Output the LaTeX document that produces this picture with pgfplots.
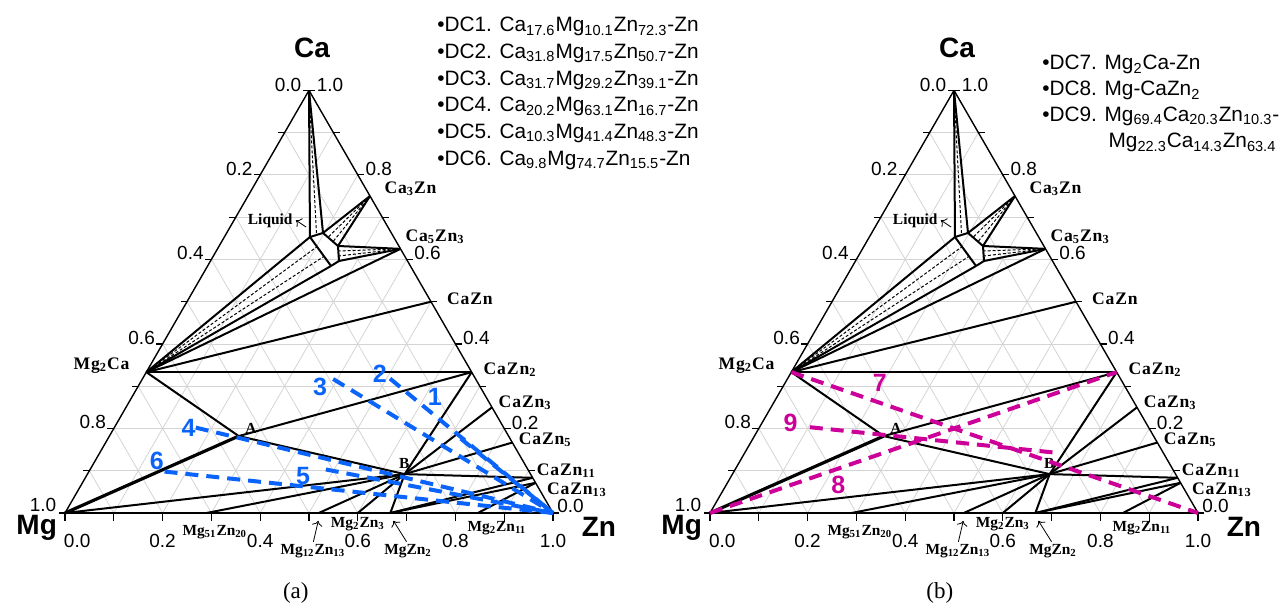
\documentclass[border=0pt]{standalone}
\usepackage{pgfplots}
\pgfplotsset{compat=1.18}
\usepackage{pgfplotstable}
\usetikzlibrary{arrows.meta}
\usepackage{fontspec}
\setmainfont{Liberation Sans}
\newfontfamily\tnr{Liberation Serif}
\newfontfamily\tnrsp[LetterSpace=5]{Liberation Serif}

\definecolor{dcblue}{RGB}{10,100,250}
\definecolor{dcmag}{RGB}{204,0,153}
\definecolor{gridgray}{RGB}{212,212,212}

% compositions are given as (x_Zn, x_Ca); the Cartesian position is
% X = x_Zn + x_Ca/2, Y = x_Ca*sqrt(3)/2, with Mg at the origin
\pgfplotsset{
  table/tern xy/.style={x expr=\thisrow{za}+0.5*\thisrow{ca}, y expr=0.8660254*\thisrow{ca}},
  tern seg/.style={no markers, quiver={u=\thisrow{zb}+0.5*\thisrow{cb}-\thisrow{za}-0.5*\thisrow{ca}, v=0.8660254*\thisrow{cb}-0.8660254*\thisrow{ca}}},
  tern tick/.style 2 args={no markers, quiver={u=#1, v=#2}},
}

% triangle edges
\pgfplotstableread{
za ca zb cb
0 0 1 0
1 0 0 1
0 1 0 0
}\borderlines

% composition grid, step 0.1
\pgfplotstableread{
za ca zb cb
0 0.1 0.9 0.1
0 0.2 0.8 0.2
0 0.3 0.7 0.3
0 0.4 0.6 0.4
0 0.5 0.5 0.5
0 0.6 0.4 0.6
0 0.7 0.3 0.7
0 0.8 0.2 0.8
0 0.9 0.1 0.9
0.1 0 0.1 0.9
0.2 0 0.2 0.8
0.3 0 0.3 0.7
0.4 0 0.4 0.6
0.5 0 0.5 0.5
0.6 0 0.6 0.4
0.7 0 0.7 0.3
0.8 0 0.8 0.2
0.9 0 0.9 0.1
0.9 0 0 0.9
0.8 0 0 0.8
0.7 0 0 0.7
0.6 0 0 0.6
0.5 0 0 0.5
0.4 0 0 0.4
0.3 0 0 0.3
0.2 0 0 0.2
0.1 0 0 0.1
}\gridlines

\pgfplotstableread{
za ca
0 0
0 0.1
0 0.2
0 0.3
0 0.4
0 0.5
0 0.6
0 0.7
0 0.8
0 0.9
0 1
}\lefttickpts

\pgfplotstableread{
za ca
1 0
0.9 0.1
0.8 0.2
0.7 0.3
0.6 0.4
0.5 0.5
0.4 0.6
0.3 0.7
0.2 0.8
0.1 0.9
0 1
}\righttickpts

\pgfplotstableread{
za ca
0 0
0.1 0
0.2 0
0.3 0
0.4 0
0.5 0
0.6 0
0.7 0
0.8 0
0.9 0
1 0
}\bottomtickpts

% phase-field boundaries and tie lines
\pgfplotstableread{
za ca zb cb
0 0.3333 0.6667 0.3333
0 0.3333 0.5 0.5
0 0.3333 0.375 0.625
0 0.3333 0.1755 0.653
0 0.3333 0.2529 0.5845
0.1755 0.653 0.1974 0.6626
0.1974 0.6626 0.2435 0.6318
0.2435 0.6318 0.2633 0.5963
0.2633 0.5963 0.2529 0.5845
0.2529 0.5845 0.1755 0.653
0 1 0.1755 0.653
0 1 0.1974 0.6626
0.25 0.75 0.1974 0.6626
0.25 0.75 0.2435 0.6318
0.375 0.625 0.2435 0.6318
0.375 0.625 0.2633 0.5963
0 0.3333 0.265 0.182
0.265 0.182 0.6667 0.3333
0.265 0.182 0.65 0.092
0 0 0.65 0.092
0.65 0.092 0.6667 0.3333
0.65 0.092 0.75 0.25
0.65 0.092 0.8333 0.1667
0.65 0.092 0.9167 0.0833
0.65 0.092 0.29 0
0.65 0.092 0.52 0
0.65 0.092 0.6 0
0.65 0.092 0.6667 0
0.6667 0 0.9167 0.0833
0.6667 0 0.9286 0.0714
0.846 0 0.9286 0.0714
}\phaselines

\pgfplotstableread{
za ca zb cb
0 0 0.265 0.182
}\mgaline

% tie lines inside the two-phase fields around the liquid
\pgfplotstableread{
za ca zb cb
0 1 0.1865 0.6578
0.25 0.75 0.2128 0.6523
0.25 0.75 0.2281 0.6421
0.375 0.625 0.2501 0.6200
0.375 0.625 0.2567 0.6081
0 0.3333 0.2013 0.6302
0 0.3333 0.2271 0.6073
}\liquidties

% diffusion couples DC1-DC6 (end member: pure Zn)
\pgfplotstableread{
za ca zb cb
0.723 0.176 1 0
0.507 0.318 1 0
0.391 0.317 1 0
0.167 0.202 1 0
0.483 0.103 1 0
0.155 0.098 1 0
}\couplesA

% diffusion couples DC7-DC9
\pgfplotstableread{
za ca zb cb
0 0.3333 1 0
0 0 0.6667 0.3333
0.103 0.203 0.634 0.143
}\couplesB

\tikzset{
  cmp/.style={font=\tnr\bfseries\fontsize{7.7}{9}\selectfont, inner sep=0pt},
  cmpl/.style={font=\tnrsp\bfseries\fontsize{8.8}{10}\selectfont, inner sep=0pt},
  tlab/.style={font=\fontsize{9.5}{10}\selectfont, inner sep=0pt},
  cornerlab/.style={font=\bfseries\fontsize{14}{16}\selectfont, inner sep=0pt},
  dcnum/.style={font=\bfseries\fontsize{12.5}{14}\selectfont, inner sep=0pt},
  leg/.style={font=\fontsize{10.4}{12}\selectfont, inner sep=0pt, anchor=base west},
  panellab/.style={font=\tnr\fontsize{11.5}{13}\selectfont, inner sep=0pt},
  pointer/.style={black, line width=0.4pt, -{To[length=2.5pt]}},
}

\newcommand{\sub}[1]{\textsubscript{#1}}

\newcommand{\phasediagram}{%
  \addplot[gridgray, line width=0.4pt, tern seg] table[tern xy] {\gridlines};
  \addplot[black, line width=0.7pt, tern seg] table[tern xy] {\borderlines};
  \addplot[black, line width=0.6pt, tern tick={-0.013}{0}] table[tern xy] {\lefttickpts};
  \addplot[black, line width=0.6pt, tern tick={0.013}{0}] table[tern xy] {\righttickpts};
  \addplot[black, line width=0.6pt, tern tick={0}{-0.016}] table[tern xy] {\bottomtickpts};
  \addplot[black, line width=1pt, tern seg] table[tern xy] {\phaselines};
  \addplot[black, line width=1.6pt, tern seg] table[tern xy] {\mgaline};
  \addplot[black, line width=0.5pt, dash pattern=on 1.5pt off 1pt, tern seg] table[tern xy] {\liquidties};
  % tick labels
  \node[tlab] at (0.025,-0.0574) {0.0};
  \node[tlab] at (0.2,-0.0574) {0.2};
  \node[tlab] at (0.4,-0.0574) {0.4};
  \node[tlab] at (0.6,-0.0574) {0.6};
  \node[tlab] at (0.8,-0.0574) {0.8};
  \node[tlab] at (1.0,-0.0574) {1.0};
  \node[tlab] at (0.457,0.878) {0.0};
  \node[tlab] at (0.357,0.705) {0.2};
  \node[tlab] at (0.257,0.532) {0.4};
  \node[tlab] at (0.157,0.359) {0.6};
  \node[tlab] at (0.057,0.186) {0.8};
  \node[tlab] at (-0.045,0.016) {1.0};
  \node[tlab] at (1.036,0.014) {0.0};
  \node[tlab] at (0.943,0.1855) {0.2};
  \node[tlab] at (0.843,0.3587) {0.4};
  \node[tlab] at (0.743,0.532) {0.6};
  \node[tlab] at (0.643,0.705) {0.8};
  \node[tlab] at (0.543,0.878) {1.0};
  % components
  \node[cornerlab] at (0.506,0.953) {Ca};
  \node[cornerlab] at (-0.058,-0.031) {Mg};
  \node[cornerlab] at (1.094,-0.029) {Zn};
  % compounds and invariant points
  \node[cmpl, anchor=west] at (0.654,0.664) {Ca\sub{3}Zn};
  \node[cmpl, anchor=west] at (0.697,0.566) {Ca\sub{5}Zn\sub{3}};
  \node[cmpl, anchor=west] at (0.782,0.440) {CaZn};
  \node[cmpl, anchor=west] at (0.857,0.293) {CaZn\sub{2}};
  \node[cmpl, anchor=west] at (0.888,0.225) {CaZn\sub{3}};
  \node[cmpl, anchor=west] at (0.929,0.150) {CaZn\sub{5}};
  \node[cmpl, anchor=west] at (0.966,0.086) {CaZn\sub{11}};
  \node[cmpl, anchor=west] at (0.987,0.047) {CaZn\sub{13}};
  \node[cmpl, anchor=east] at (0.133,0.301) {Mg\sub{2}Ca};
  \node[cmp, anchor=east] at (0.467,0.598) {Liquid};
  \draw[pointer] (0.494,0.586) -- (0.473,0.600);
  \node[cmp] at (0.381,0.174) {A};
  \node[cmp] at (0.695,0.102) {B};
  \node[cmp] at (0.307,-0.039) {Mg\sub{51}Zn\sub{20}};
  \node[cmp] at (0.508,-0.078) {Mg\sub{12}Zn\sub{13}};
  \node[cmp] at (0.600,-0.0225) {Mg\sub{2}Zn\sub{3}};
  \node[cmp] at (0.703,-0.078) {MgZn\sub{2}};
  \node[cmp] at (0.885,-0.031) {Mg\sub{2}Zn\sub{11}};
  \draw[pointer] (0.509,-0.059) -- (0.519,-0.016);
  \draw[pointer] (0.700,-0.059) -- (0.673,-0.016);
}

\begin{document}
\begin{tikzpicture}
\useasboundingbox (0,0) rectangle (640pt,303pt);

\begin{axis}[at={(32.5pt,46.5pt)}, anchor=south west, x=244pt, y=244pt,
  xmin=0, xmax=1, ymin=0, ymax=0.8660254, axis lines=none, clip=false]
  \phasediagram
  \addplot[dcblue, line width=2pt, dash pattern=on 6.5pt off 4pt, tern seg] table[tern xy] {\couplesA};
  \node[dcnum, text=dcblue] at (0.758,0.238) {1};
  \node[dcnum, text=dcblue] at (0.645,0.286) {2};
  \node[dcnum, text=dcblue] at (0.5225,0.259) {3};
  \node[dcnum, text=dcblue] at (0.253,0.174) {4};
  \node[dcnum, text=dcblue] at (0.488,0.076) {5};
  \node[dcnum, text=dcblue] at (0.188,0.107) {6};
  \node[leg] at (0.762,0.986) {\textbullet DC1. Ca\sub{17.6}Mg\sub{10.1}Zn\sub{72.3}-Zn};
  \node[leg] at (0.762,0.932) {\textbullet DC2. Ca\sub{31.8}Mg\sub{17.5}Zn\sub{50.7}-Zn};
  \node[leg] at (0.762,0.877) {\textbullet DC3. Ca\sub{31.7}Mg\sub{29.2}Zn\sub{39.1}-Zn};
  \node[leg] at (0.762,0.822) {\textbullet DC4. Ca\sub{20.2}Mg\sub{63.1}Zn\sub{16.7}-Zn};
  \node[leg] at (0.762,0.768) {\textbullet DC5. Ca\sub{10.3}Mg\sub{41.4}Zn\sub{48.3}-Zn};
  \node[leg] at (0.762,0.713) {\textbullet DC6. Ca\sub{9.8}Mg\sub{74.7}Zn\sub{15.5}-Zn};
  \node[panellab] at (0.473,-0.164) {(a)};
\end{axis}

\begin{axis}[at={(355pt,46.5pt)}, anchor=south west, x=244pt, y=244pt,
  xmin=0, xmax=1, ymin=0, ymax=0.8660254, axis lines=none, clip=false]
  \phasediagram
  \addplot[dcmag, line width=2pt, dash pattern=on 6.5pt off 4pt, tern seg] table[tern xy] {\couplesB};
  \node[dcnum, text=dcmag] at (0.348,0.266) {7};
  \node[dcnum, text=dcmag] at (0.263,0.057) {8};
  \node[dcnum, text=dcmag] at (0.165,0.184) {9};
  \node[leg] at (0.680,0.908) {\textbullet DC7. Mg\sub{2}Ca-Zn};
  \node[leg] at (0.680,0.855) {\textbullet DC8. Mg-CaZn\sub{2}};
  \node[leg] at (0.680,0.802) {\textbullet DC9. Mg\sub{69.4}Ca\sub{20.3}Zn\sub{10.3}-};
  \node[leg] at (0.816,0.748) {Mg\sub{22.3}Ca\sub{14.3}Zn\sub{63.4}};
  \node[panellab] at (0.471,-0.164) {(b)};
\end{axis}
\end{tikzpicture}
\end{document}
